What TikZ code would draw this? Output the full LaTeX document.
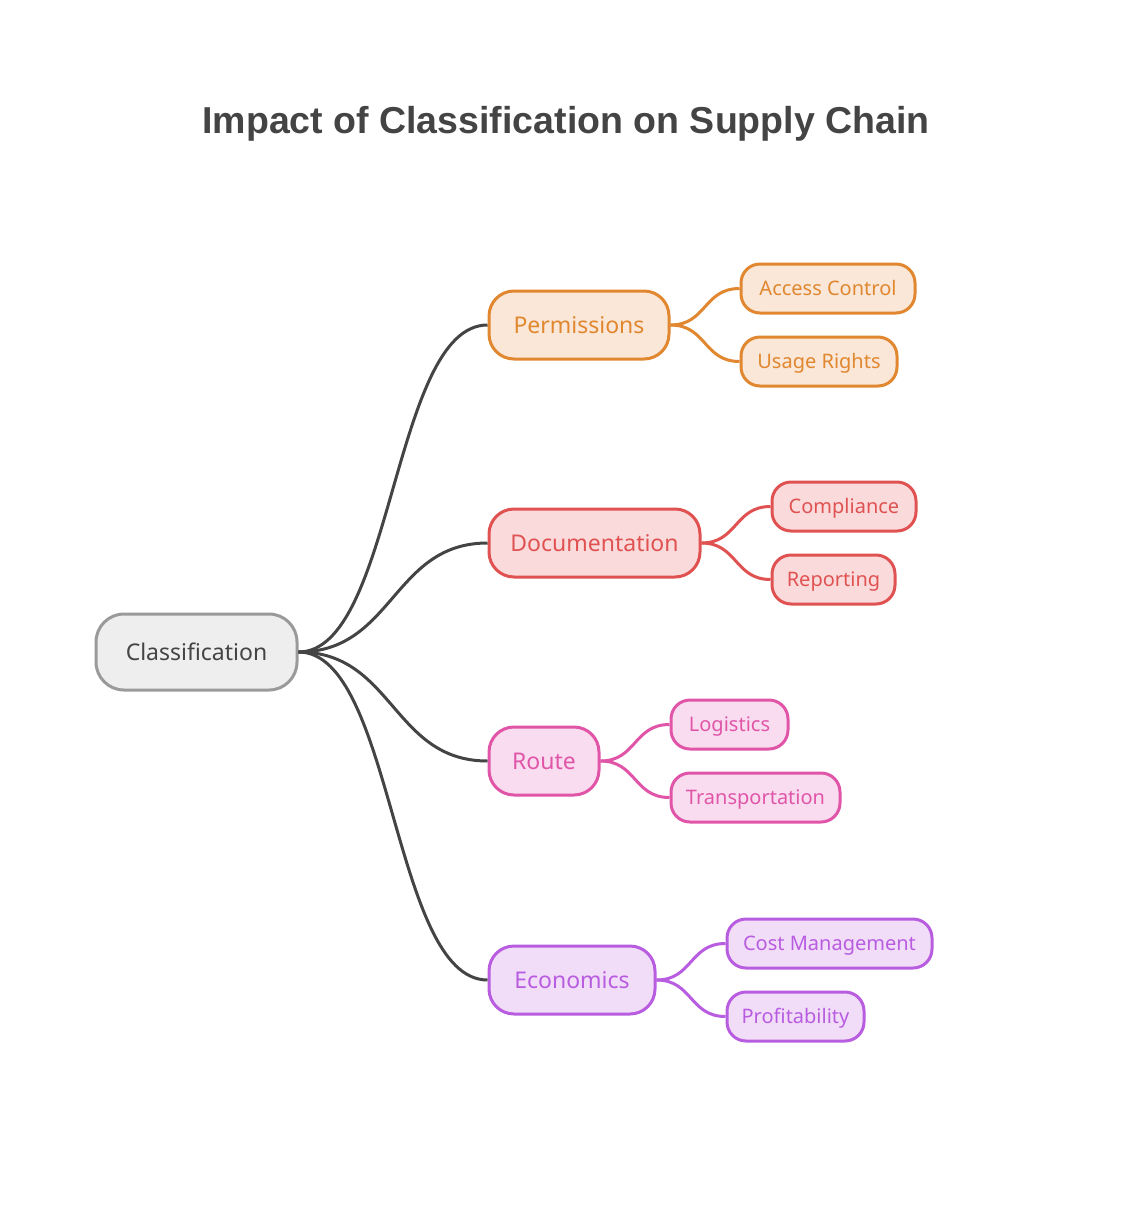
\documentclass[tikz,border=0pt]{standalone}
\usepackage{fontspec}
\setmainfont{Noto Sans}
\newfontfamily\ttlfont{Liberation Sans}
\definecolor{ttl}{HTML}{444444}
\definecolor{grS}{HTML}{9A9A9A}\definecolor{grF}{HTML}{EEEEEE}\definecolor{grT}{HTML}{444444}
\definecolor{orS}{HTML}{E0872F}\definecolor{orF}{HTML}{FAE7D8}
\definecolor{rdS}{HTML}{E05252}\definecolor{rdF}{HTML}{FADADB}
\definecolor{pkS}{HTML}{E055A8}\definecolor{pkF}{HTML}{F9DCEF}
\definecolor{puS}{HTML}{B85CE0}\definecolor{puF}{HTML}{F2DDF8}
\definecolor{edge}{HTML}{444444}
\tikzset{
  box/.style={draw, line width=3pt, rounded corners=25pt, inner sep=0pt, text depth=0pt},
  rootbox/.style={box, draw=grS, fill=grF, text=grT, minimum height=76pt, rounded corners=28pt, text height=16.5pt, font=\fontsize{23}{26}\selectfont},
  parbox/.style={box, minimum height=68pt, text height=16.5pt, font=\fontsize{23}{26}\selectfont},
  kidbox/.style={box, minimum height=49pt, rounded corners=19pt, text height=14.4pt, font=\fontsize{20}{23}\selectfont},
  orange/.style={draw=orS, fill=orF, text=orS},
  red/.style={draw=rdS, fill=rdF, text=rdS},
  pink/.style={draw=pkS, fill=pkF, text=pkS},
  purple/.style={draw=puS, fill=puF, text=puS},
  mainline/.style={draw=edge, line width=3pt},
  kidline/.style={line width=3pt},
}
\begin{document}
\begin{tikzpicture}[x=1pt,y=-1pt]
\useasboundingbox (0,0) rectangle (1133,1210);
\node[font=\ttlfont\bfseries\fontsize{37.5}{42}\selectfont, text=ttl, text height=27pt, text depth=0pt, inner sep=0pt] (title) at (566,120) {Impact of Classification on Supply Chain};

\node[rootbox, minimum width=201pt] (root) at (196.5,652) {Classification};

\node[parbox, orange, minimum width=180pt] (perm) at (579,325) {Permissions};
\node[parbox, red, minimum width=211pt] (doc) at (594.5,543) {Documentation};
\node[parbox, pink, minimum width=110pt] (route) at (544,761) {Route};
\node[parbox, purple, minimum width=166pt] (econ) at (572,980) {Economics};

\node[kidbox, orange, minimum width=174pt] (acc) at (828,288.5) {Access Control};
\node[kidbox, orange, minimum width=156pt] (use) at (819,361.5) {Usage Rights};
\node[kidbox, red, minimum width=144pt] (comp) at (844,506.5) {Compliance};
\node[kidbox, red, minimum width=123pt] (rep) at (833.5,579.5) {Reporting};
\node[kidbox, pink, minimum width=117pt] (log) at (729.5,724.5) {Logistics};
\node[kidbox, pink, minimum width=169pt] (trans) at (755.5,797.5) {Transportation};
\node[kidbox, purple, minimum width=205pt] (cost) at (829.5,943.5) {Cost Management};
\node[kidbox, purple, minimum width=137pt] (prof) at (795.5,1016.5) {Profitability};

\foreach \p in {perm,doc,route,econ}{
  \draw[mainline] (root.east) .. controls +(95,0) and +(-95,0) .. (\p.west);
}
\draw[kidline, draw=orS] (perm.east) .. controls +(36,0) and +(-36,0) .. (acc.west);
\draw[kidline, draw=orS] (perm.east) .. controls +(36,0) and +(-36,0) .. (use.west);
\draw[kidline, draw=rdS] (doc.east) .. controls +(36,0) and +(-36,0) .. (comp.west);
\draw[kidline, draw=rdS] (doc.east) .. controls +(36,0) and +(-36,0) .. (rep.west);
\draw[kidline, draw=pkS] (route.east) .. controls +(36,0) and +(-36,0) .. (log.west);
\draw[kidline, draw=pkS] (route.east) .. controls +(36,0) and +(-36,0) .. (trans.west);
\draw[kidline, draw=puS] (econ.east) .. controls +(36,0) and +(-36,0) .. (cost.west);
\draw[kidline, draw=puS] (econ.east) .. controls +(36,0) and +(-36,0) .. (prof.west);
\end{tikzpicture}
\end{document}
